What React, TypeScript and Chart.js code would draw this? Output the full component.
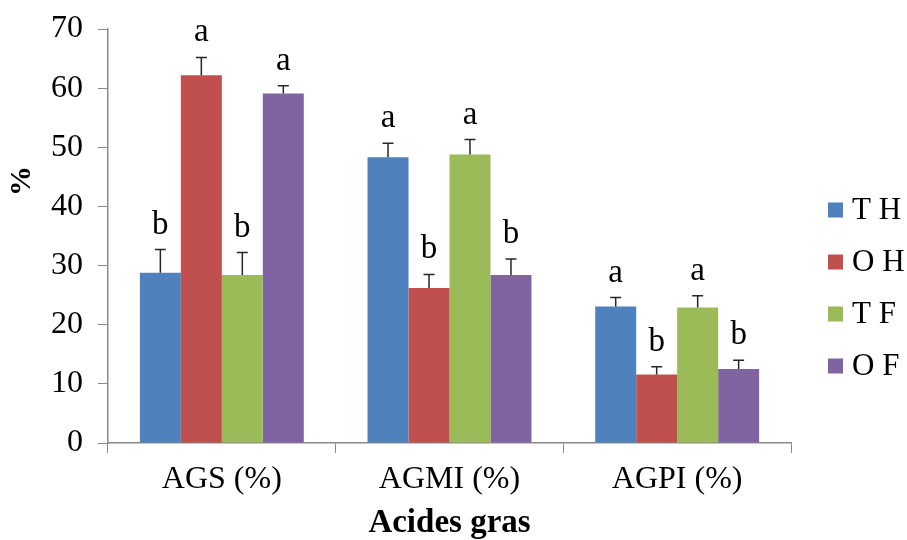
import React, { useEffect, useRef } from "react";
import { Chart, registerables } from "chart.js";

Chart.register(...registerables);

const categories = ["AGS (%)", "AGMI (%)", "AGPI (%)"];
const seriesNames = ["T H", "O H", "T F", "O F"];
const seriesColors = ["#4F81BD", "#C0504D", "#9BBB59", "#8064A2"];

const valuesTH = [28.8, 48.3, 23.1];
const valuesOH = [62.2, 26.2, 11.6];
const valuesTF = [28.4, 48.8, 22.9];
const valuesOF = [59.1, 28.4, 12.5];

const errTH = [3.9, 2.4, 1.5];
const errOH = [3.0, 2.3, 1.3];
const errTF = [3.8, 2.5, 2.0];
const errOF = [1.3, 2.7, 1.5];

const lettersTH = ["b", "a", "a"];
const lettersOH = ["a", "b", "b"];
const lettersTF = ["b", "a", "a"];
const lettersOF = ["a", "b", "b"];

const yMin = 0;
const yMax = 70;
const yStep = 10;

const yTitle = "%";
const xTitle = "Acides gras";

const FONT = "'Liberation Serif', 'Times New Roman', serif";

const allValues = [valuesTH, valuesOH, valuesTF, valuesOF];
const allErrors = [errTH, errOH, errTF, errOF];
const allLetters = [lettersTH, lettersOH, lettersTF, lettersOF];

const errorBarPlugin = {
  id: "errorBarsLetters",
  afterDatasetsDraw(chart: any) {
    const { ctx, scales } = chart;
    const yScale = scales.y;
    ctx.save();
    chart.data.datasets.forEach((ds: any, di: number) => {
      const meta = chart.getDatasetMeta(di);
      meta.data.forEach((bar: any, i: number) => {
        const v = allValues[di][i];
        const e = allErrors[di][i];
        const x = bar.x;
        const yTop = yScale.getPixelForValue(v);
        const yErr = yScale.getPixelForValue(v + e);
        ctx.strokeStyle = "#262626";
        ctx.lineWidth = 1.5;
        ctx.beginPath();
        ctx.moveTo(x, yTop);
        ctx.lineTo(x, yErr);
        ctx.moveTo(x - 5.5, yErr);
        ctx.lineTo(x + 5.5, yErr);
        ctx.stroke();
        ctx.fillStyle = "#000";
        ctx.font = `33px ${FONT}`;
        ctx.textAlign = "center";
        ctx.textBaseline = "alphabetic";
        ctx.fillText(allLetters[di][i], x, yErr - 16);
      });
    });
    ctx.restore();
  },
};

const legendAndTitlePlugin = {
  id: "customLegend",
  afterDraw(chart: any) {
    const { ctx, chartArea } = chart;
    ctx.save();
    const x0 = chartArea.right + 37;
    const y0 = chartArea.top + 181;
    const step = 52;
    chart.data.datasets.forEach((ds: any, i: number) => {
      const cy = y0 + i * step;
      ctx.fillStyle = ds.backgroundColor;
      ctx.fillRect(x0, cy - 7.5, 15, 15);
      ctx.fillStyle = "#000";
      ctx.font = `31px ${FONT}`;
      ctx.textAlign = "left";
      ctx.textBaseline = "middle";
      ctx.fillText(ds.label, x0 + 24, cy + 1);
    });
    // y axis title
    ctx.translate(22, chartArea.top + 152);
    ctx.rotate(-Math.PI / 2);
    ctx.font = `bold 30px ${FONT}`;
    ctx.textAlign = "center";
    ctx.textBaseline = "middle";
    ctx.fillText(yTitle, 0, 0);
    ctx.restore();
  },
};

export default function App() {
  const ref = useRef<HTMLCanvasElement | null>(null);

  useEffect(() => {
    document.body.style.margin = "0";
    if (!ref.current) return;
    const chart = new Chart(ref.current, {
      type: "bar",
      data: {
        labels: categories,
        datasets: seriesNames.map((name, i) => ({
          label: name,
          data: allValues[i],
          backgroundColor: seriesColors[i],
          borderWidth: 0,
          categoryPercentage: 0.72,
          barPercentage: 1.0,
        })),
      },
      options: {
        responsive: false,
        animation: false,
        layout: { padding: { left: 0, right: 116, top: 29, bottom: 0 } },
        plugins: {
          legend: { display: false },
          tooltip: { enabled: false },
        },
        scales: {
          x: {
            offset: true,
            grid: {
              display: true,
              offset: true,
              drawOnChartArea: false,
              drawTicks: true,
              tickLength: 10,
              color: "#898989",
            },
            border: { display: true, color: "#898989", width: 1.5 },
            ticks: {
              color: "#000",
              font: { family: FONT, size: 32 },
              padding: 7,
              maxRotation: 0,
              autoSkip: false,
            },
            title: {
              display: true,
              text: xTitle,
              color: "#000",
              font: { family: FONT, size: 33, weight: "bold" },
              padding: { top: 0, bottom: -3 },
            },
            afterFit: (s: any) => {
              s.height = 97;
              s.paddingLeft = 0;
              s.paddingRight = 0;
            },
          },
          y: {
            min: yMin,
            max: yMax,
            grid: {
              display: true,
              drawOnChartArea: false,
              drawTicks: true,
              tickLength: 10,
              color: "#898989",
            },
            border: { display: true, color: "#898989", width: 1.5 },
            ticks: {
              stepSize: yStep,
              color: "#000",
              font: { family: FONT, size: 32 },
              padding: 15,
            },
            afterFit: (s: any) => {
              s.width = 108;
              s.paddingTop = 0;
              s.paddingBottom = 0;
            },
          },
        },
      },
      plugins: [errorBarPlugin, legendAndTitlePlugin],
    });
    return () => chart.destroy();
  }, []);

  return <canvas ref={ref} width={907} height={540} style={{ display: "block" }} />;
}
